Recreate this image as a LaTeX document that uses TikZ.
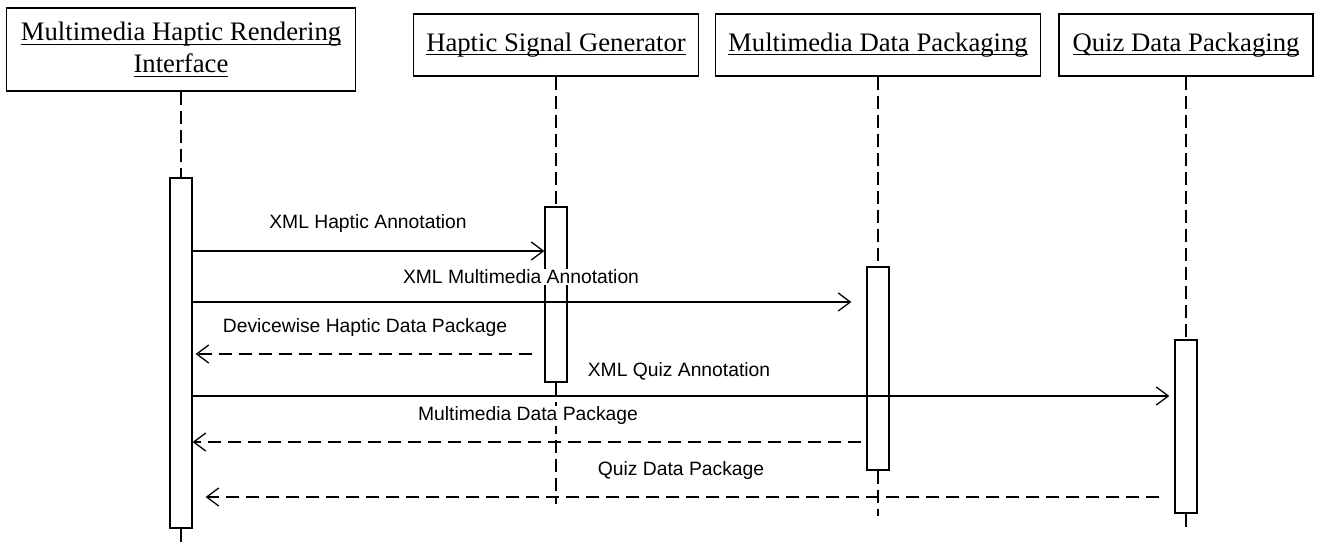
\documentclass[tikz,border=0pt]{standalone}
\usepackage{fontspec}
\setmainfont{Liberation Serif}
\newfontfamily\lblfont{Liberation Sans}
\usetikzlibrary{arrows.meta,backgrounds}
% underline at a fixed depth below the baseline
\newcommand{\ulword}[1]{\setbox0=\hbox{#1}\rlap{\rule[-4pt]{\wd0}{1.2pt}}\box0}

\begin{document}
\begin{tikzpicture}[x=1pt,y=-1pt,
  head/.style={draw, fill=white, line width=1.3pt, inner sep=0pt, align=center,
    font=\fontsize{26.7}{32}\selectfont},
  act/.style={draw, fill=white, line width=1.3pt, minimum width=22pt, inner sep=0pt},
  life/.style={line width=1.3pt, dash pattern=on 13pt off 6pt},
  msglbl/.style={fill=white, inner sep=1pt, font=\lblfont\fontsize{19.3}{22}\selectfont},
  call/.style={line width=1.3pt, -{Straight Barb[length=12pt,width=18pt]}},
  reply/.style={call, dash pattern=on 13pt off 7pt}]
\useasboundingbox (0,0) rectangle (1324,546);

% object headers
\node[head, minimum width=349pt, minimum height=83pt] (h1) at (181,49.5)
  {\ulword{Multimedia Haptic Rendering}\\\ulword{Interface}};
\node[head, minimum width=285pt, minimum height=62pt] (h2) at (556,45)
  {\ulword{Haptic Signal Generator}};
\node[head, minimum width=325pt, minimum height=62pt] (h3) at (878,45)
  {\ulword{Multimedia Data Packaging}};
\node[head, minimum width=254pt, minimum height=62pt] (h4) at (1186,45)
  {\ulword{Quiz Data Packaging}};

% lifeline ends
\coordinate (e1) at (181,546);
\coordinate (e2) at (556,504);
\coordinate (e3) at (878,516);
\coordinate (e4) at (1186,528);

% activation bars
\node[act, minimum height=350pt] (a1) at (181,353) {};
\node[act, minimum height=175pt] (a2) at (556,294.5) {};
\node[act, minimum height=203pt] (a3) at (878,368.5) {};
\node[act, minimum height=173pt] (a4) at (1186,426.5) {};

% lifelines, behind the bars
\begin{scope}[on background layer]
  \draw[life] (h1.south) -- (a1.north);
  \draw[life] (a1.south) -- (e1);
  \draw[life] (h2.south) -- (a2.north);
  \draw[life] (a2.south) -- (e2);
  \draw[life] (h3.south) -- (a3.north);
  \draw[life] (a3.south) -- (e3);
  \draw[life] (h4.south) -- (a4.north);
  \draw[life] (a4.south) -- (e4);
\end{scope}

% messages
\draw[call] (a1.east |- 0,251) -- (a2.west |- 0,251);
\draw[call, shorten >=15pt] (a1.east |- 0,302) -- (a3.west |- 0,302);
\draw[reply, shorten <=12pt, shorten >=3pt] (a2.west |- 0,354) -- (a1.east |- 0,354);
\draw[call, shorten >=5pt] (a1.east |- 0,396) -- (a4.west |- 0,396);
\draw[reply, shorten <=5pt] (a3.west |- 0,442) -- (a1.east |- 0,442);
\draw[reply, shorten <=15pt, shorten >=13pt] (a4.west |- 0,497) -- (a1.east |- 0,497);

% message labels
\node[msglbl] (l1) at (368,224) {XML Haptic Annotation};
\node[msglbl] (l2) at (521,277) {XML Multimedia Annotation};
\node[msglbl] (l3) at (365,328) {Devicewise Haptic Data Package};
\node[msglbl] (l4) at (679,371) {XML Quiz Annotation};
\node[msglbl] (l5) at (528,416) {Multimedia Data Package};
\node[msglbl] (l6) at (681,471) {Quiz Data Package};
\end{tikzpicture}
\end{document}
